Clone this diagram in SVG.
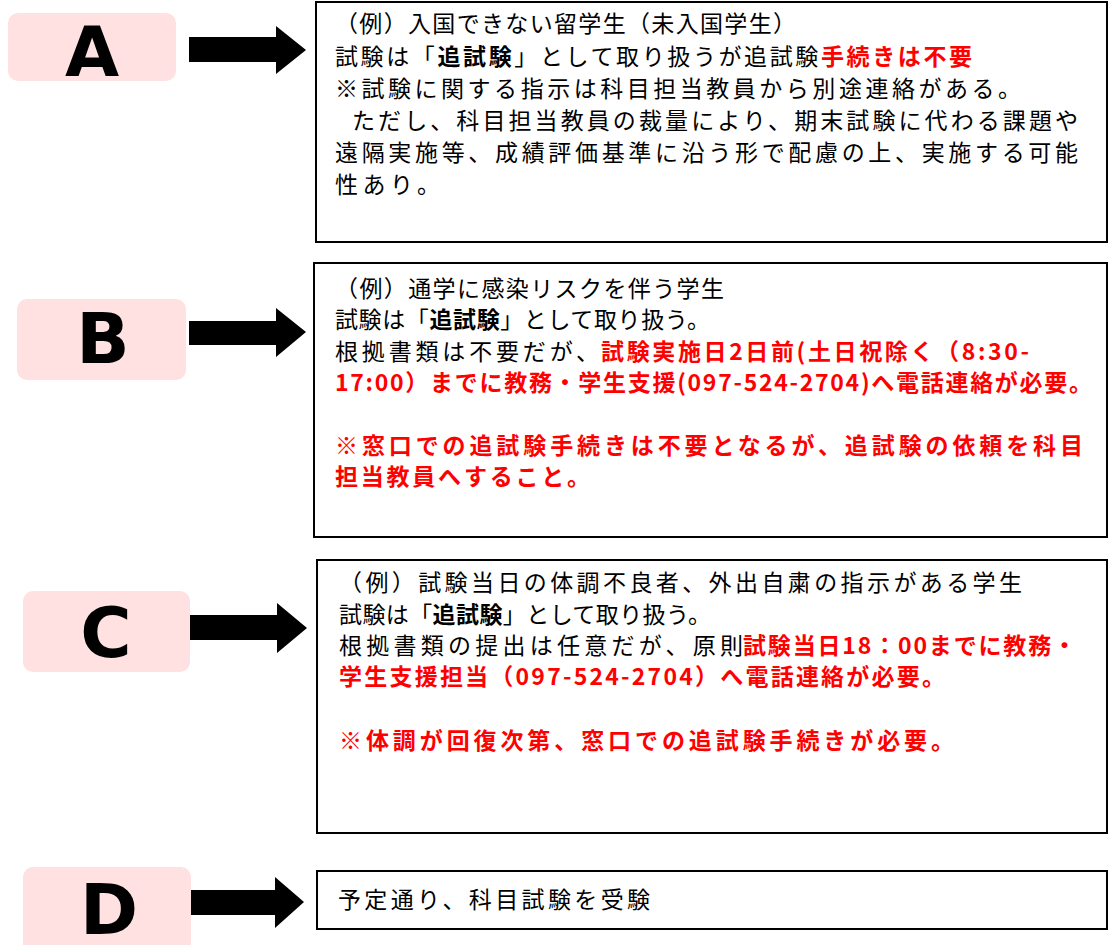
<svg xmlns="http://www.w3.org/2000/svg" width="1109" height="945" viewBox="0 0 1109 945">
<style>
.lab{fill:#FFE1E1}
.letter{font-family:"DejaVu Sans","Liberation Sans",sans-serif;font-weight:700;font-size:70px;fill:#000;text-anchor:middle}
.box{fill:#fff;stroke:#000;stroke-width:2}
.t{font-family:"Noto Sans CJK JP","Noto Sans",sans-serif;font-size:23px;fill:#000}
.b{font-weight:700}
.r{fill:#FF0000;font-weight:700}
.arrow{fill:#000}
</style>
<rect width="1109" height="945" fill="#fff"/>
<g id="connectors">
<polygon class="arrow" points="189,37 276,37 276,26 306,50 276,74 276,62 189,62"/>
<polygon class="arrow" points="189,321 276,321 276,308 306,332 276,357 276,345 189,345"/>
<polygon class="arrow" points="189,615 277,615 277,603 307,628 277,653 277,640 189,640"/>
<polygon class="arrow" points="191,890 275,890 275,877 304,902 275,928 275,915 191,915"/>
</g>
<g id="labelA">
<rect class="lab" x="8" y="13" width="168" height="68" rx="10"/>
<text class="letter" x="92" y="76">A</text>
</g>
<g id="labelB">
<rect class="lab" x="17" y="299" width="169" height="81" rx="10"/>
<text class="letter" x="103" y="363">B</text>
</g>
<g id="labelC">
<rect class="lab" x="23" y="591" width="167" height="81" rx="10"/>
<text class="letter" x="106" y="657">C</text>
</g>
<g id="labelD">
<rect class="lab" x="23" y="867" width="168" height="90" rx="10"/>
<text class="letter" x="109" y="934">D</text>
</g>
<g id="boxA">
<rect class="box" x="316" y="2" width="791" height="240"/>
<text class="t" x="335" y="32" textLength="461" lengthAdjust="spacing">（例）入国できない留学生（未入国学生）</text>
<text class="t" x="335" y="65" textLength="637" lengthAdjust="spacing">試験は「<tspan class="b">追試験</tspan>」として取り扱うが追試験<tspan class="r">手続きは不要</tspan></text>
<text class="t" x="335" y="97" textLength="686" lengthAdjust="spacing">※試験に関する指示は科目担当教員から別途連絡がある。</text>
<text class="t" x="352" y="129" textLength="726" lengthAdjust="spacing">ただし、科目担当教員の裁量により、期末試験に代わる課題や</text>
<text class="t" x="335" y="161" textLength="743" lengthAdjust="spacing">遠隔実施等、成績評価基準に沿う形で配慮の上、実施する可能</text>
<text class="t" x="335" y="193" textLength="105" lengthAdjust="spacing">性あり。</text>
</g>
<g id="boxB">
<rect class="box" x="314" y="263" width="793" height="274"/>
<text class="t" x="335" y="297" textLength="389" lengthAdjust="spacing">（例）通学に感染リスクを伴う学生</text>
<text class="t" x="335" y="328" textLength="375" lengthAdjust="spacing">試験は「<tspan class="b">追試験</tspan>」として取り扱う。</text>
<text class="t" x="335" y="360" textLength="264" lengthAdjust="spacing">根拠書類は不要だが、</text>
<text class="t r" x="601" y="360" textLength="428" lengthAdjust="spacing">試験実施日2日前(土日祝除く（8:30-</text>
<text class="t r" x="335" y="391" textLength="757" lengthAdjust="spacing">17:00）までに教務・学生支援(097-524-2704)へ電話連絡が必要。</text>
<text class="t r" x="335" y="454" textLength="748" lengthAdjust="spacing">※窓口での追試験手続きは不要となるが、追試験の依頼を科目</text>
<text class="t r" x="335" y="485" textLength="255" lengthAdjust="spacing">担当教員へすること。</text>
</g>
<g id="boxC">
<rect class="box" x="317" y="560" width="790" height="273"/>
<text class="t" x="339" y="591" textLength="683" lengthAdjust="spacing">（例）試験当日の体調不良者、外出自粛の指示がある学生</text>
<text class="t" x="339" y="623" textLength="372" lengthAdjust="spacing">試験は「<tspan class="b">追試験</tspan>」として取り扱う。</text>
<text class="t" x="339" y="654" textLength="404" lengthAdjust="spacing">根拠書類の提出は任意だが、原則</text>
<text class="t r" x="743" y="654" textLength="333" lengthAdjust="spacing">試験当日18：00までに教務・</text>
<text class="t r" x="339" y="685" textLength="606" lengthAdjust="spacing">学生支援担当（097-524-2704）へ電話連絡が必要。</text>
<text class="t r" x="339" y="749" textLength="615" lengthAdjust="spacing">※体調が回復次第、窓口での追試験手続きが必要。</text>
</g>
<g id="boxD">
<rect class="box" x="317" y="871" width="790" height="58"/>
<text class="t" x="338" y="908" textLength="312" lengthAdjust="spacing">予定通り、科目試験を受験</text>
</g>
</svg>
